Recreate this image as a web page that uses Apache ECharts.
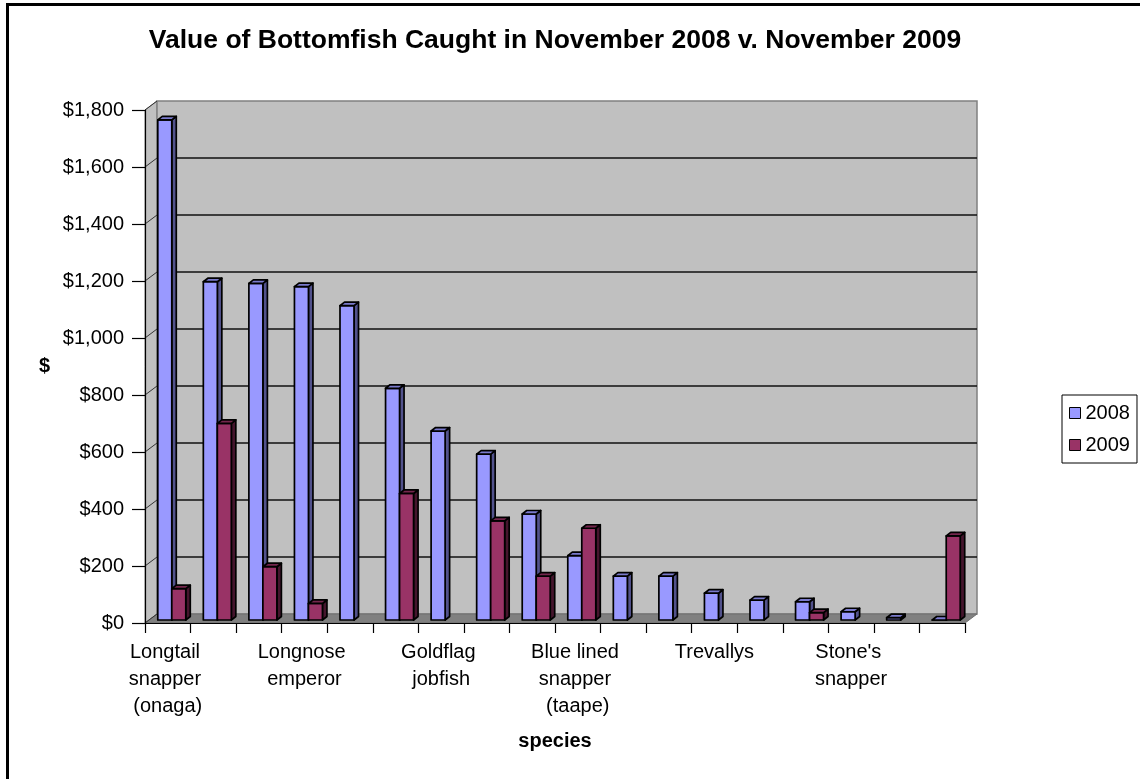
<!DOCTYPE html>
<html>
<head>
<meta charset="utf-8">
<title>Value of Bottomfish Caught in November 2008 v. November 2009</title>
<script src="https://cdn.jsdelivr.net/npm/echarts@6/dist/echarts.min.js"></script>
<style>
  html, body { margin: 0; padding: 0; background: #ffffff; }
  #chart { width: 1140px; height: 779px; }
</style>
</head>
<body>
<div id="chart"></div>
<script>
// Species, in descending order of 2008 value
const categories = [
  'Longtail snapper (onaga)', 'Red snapper (lehi)', 'Pink snapper (opakapaka)',
  'Longnose emperor', 'Redgill emperor', 'Yellowtail snapper',
  'Goldflag jobfish', 'Ruby snapper (ehu)', 'Gindai',
  'Blue lined snapper (taape)', 'Amberjack', 'Yellowlined snapper',
  'Trevallys', 'Groupers', 'Emperors',
  "Stone's snapper", 'Squirrelfish snapper', 'Other bottomfish'
];
// Dollar value caught, November of each year (null = none recorded)
const value2008 = [1755, 1187, 1181, 1170, 1103, 813, 663, 582, 372, 226, 154, 154, 94, 70, 64, 29, 8, 0];
const value2009 = [110, 690, 187, 58, null, 444, null, 348, 154, 322, null, null, null, null, 26, null, null, 295];
const seriesNames = ['2008', '2009'];
// Value axis ticks
const yMin = 0;
const yMax = 1800;
const yStep = 200;

const FONT = '"Liberation Sans", Arial, sans-serif';

// Depth of the 3-D box (walls/floor) and of each column
const WALL_DX = 12, WALL_DY = -9;
const BAR_DX = 4.5, BAR_DY = -3.5;
const BAR_SHIFT_Y = -3;       // columns stand slightly behind the front edge
const BAR_W = 14;

const palette = {
  '2008': { front: '#9999FF', side: '#52528C', top: '#7A7ACC' },
  '2009': { front: '#993366', side: '#45152D', top: '#74264D' }
};

function fmtDollar(v) {
  return '$' + Number(v).toLocaleString('en-US');
}

// Back wall, side wall, floor and gridlines of the 3-D plot box
function renderBox(params, api) {
  const cs = params.coordSys;
  const x0 = cs.x, x1 = cs.x + cs.width;
  const yT = cs.y, yB = cs.y + cs.height;
  const children = [];
  children.push({
    type: 'polygon',
    shape: { points: [[x0, yT], [x0 + WALL_DX, yT + WALL_DY], [x0 + WALL_DX, yB + WALL_DY], [x0, yB]] },
    style: { fill: '#C0C0C0', stroke: '#808080', lineWidth: 1 }
  });
  children.push({
    type: 'rect',
    shape: { x: x0 + WALL_DX, y: yT + WALL_DY, width: cs.width, height: cs.height },
    style: { fill: '#C0C0C0', stroke: '#808080', lineWidth: 1.5 }
  });
  children.push({
    type: 'polygon',
    shape: { points: [[x0, yB], [x1, yB], [x1 + WALL_DX, yB + WALL_DY], [x0 + WALL_DX, yB + WALL_DY]] },
    style: { fill: '#808080', stroke: '#6E6E6E', lineWidth: 1 }
  });
  for (let v = yMin; v <= yMax; v += yStep) {
    const y = api.coord([0, v])[1];
    if (v > yMin && v < yMax) {
      children.push({
        type: 'line',
        shape: { x1: x0 + WALL_DX, y1: y + WALL_DY, x2: x1 + WALL_DX, y2: y + WALL_DY },
        style: { stroke: '#111111', lineWidth: 1.3 }
      });
    }
    children.push({
      type: 'line',
      shape: { x1: x0, y1: y, x2: x0 + WALL_DX, y2: y + WALL_DY },
      style: { stroke: '#333333', lineWidth: 1 }
    });
  }
  return { type: 'group', children: children };
}

// One 3-D column: front face, side face and top face
function makeColumnRenderer(name, offset) {
  const c = palette[name];
  return function (params, api) {
    const v = api.value(1);
    if (v == null || isNaN(v)) return null;
    const idx = api.value(0);
    const base = api.coord([idx, 0]);
    const topPt = api.coord([idx, v]);
    const left = base[0] + offset;
    const right = left + BAR_W;
    const yb = base[1] + BAR_SHIFT_Y;
    const yt = topPt[1] + BAR_SHIFT_Y;
    const edge = { stroke: '#000000', lineWidth: 1.7, lineJoin: 'round' };
    return {
      type: 'group',
      children: [
        {
          type: 'polygon',
          shape: { points: [[right, yt], [right + BAR_DX, yt + BAR_DY], [right + BAR_DX, yb + BAR_DY], [right, yb]] },
          style: Object.assign({ fill: c.side }, edge)
        },
        {
          type: 'rect',
          shape: { x: left, y: yt, width: BAR_W, height: yb - yt },
          style: Object.assign({ fill: c.front }, edge)
        },
        {
          type: 'polygon',
          shape: { points: [[left, yt], [left + BAR_DX, yt + BAR_DY], [right + BAR_DX, yt + BAR_DY], [right, yt]] },
          style: Object.assign({ fill: c.top }, edge)
        }
      ]
    };
  };
}

const chart = echarts.init(document.getElementById('chart'), null, { renderer: 'canvas' });

const option = {
  backgroundColor: '#ffffff',
  animation: false,
  textStyle: { fontFamily: FONT },
  title: {
    text: 'Value of Bottomfish Caught in November 2008 v. November 2009',
    left: 550,
    textAlign: 'center',
    top: 22,
    textStyle: { fontFamily: FONT, fontSize: 26.5, fontWeight: 'bold', color: '#000000' }
  },
  legend: {
    data: seriesNames.map(function (n) {
      return { name: n, itemStyle: { color: palette[n].front, borderColor: '#000000', borderWidth: 1 } };
    }),
    orient: 'vertical',
    left: 1062,
    top: 395,
    padding: [8, 7, 8, 7],
    itemGap: 12,
    itemWidth: 11,
    itemHeight: 11,
    icon: 'rect',
    backgroundColor: '#ffffff',
    borderColor: '#000000',
    borderWidth: 1,
    borderRadius: 0,
    textStyle: { fontFamily: FONT, fontSize: 20, color: '#000000' }
  },
  grid: {
    left: 145,
    right: 175,
    top: 110,
    bottom: 156,
    containLabel: false,
    outerBoundsMode: 'none'
  },
  xAxis: {
    type: 'category',
    data: categories,
    boundaryGap: true,
    name: 'species',
    nameLocation: 'middle',
    nameGap: 108,
    nameTextStyle: { fontFamily: FONT, fontSize: 20, fontWeight: 'bold', color: '#000000' },
    axisLine: { show: true, lineStyle: { color: '#000000', width: 1.2 } },
    axisTick: { show: true, interval: 0, length: 10, lineStyle: { color: '#000000', width: 1.2 } },
    axisLabel: {
      interval: 2,
      margin: 16,
      fontFamily: FONT,
      fontSize: 20,
      lineHeight: 27,
      color: '#000000',
      width: 100,
      overflow: 'break',
      hideOverlap: false
    },
    splitLine: { show: false }
  },
  yAxis: {
    type: 'value',
    min: yMin,
    max: yMax,
    interval: yStep,
    name: '$',
    nameLocation: 'middle',
    nameRotate: 0,
    nameGap: 95,
    nameTextStyle: { fontFamily: FONT, fontSize: 20, fontWeight: 'bold', color: '#000000' },
    axisLine: { show: true, lineStyle: { color: '#000000', width: 1.2 } },
    axisTick: { show: true, length: 13, lineStyle: { color: '#000000', width: 1.2 } },
    axisLabel: {
      margin: 21,
      fontFamily: FONT,
      fontSize: 20,
      color: '#000000',
      formatter: fmtDollar
    },
    splitLine: { show: false }
  },
  series: [
    {
      type: 'custom',
      name: 'box',
      coordinateSystem: 'cartesian2d',
      silent: true,
      z: 0,
      clip: false,
      data: [[0, 0]],
      renderItem: renderBox
    },
    {
      type: 'custom',
      name: '2008',
      coordinateSystem: 'cartesian2d',
      z: 2,
      clip: false,
      itemStyle: { color: palette['2008'].front },
      encode: { x: 0, y: 1 },
      data: value2008.map(function (v, i) { return [i, v]; }),
      renderItem: makeColumnRenderer('2008', -10)
    },
    {
      type: 'custom',
      name: '2009',
      coordinateSystem: 'cartesian2d',
      z: 3,
      clip: false,
      itemStyle: { color: palette['2009'].front },
      encode: { x: 0, y: 1 },
      data: value2009.map(function (v, i) { return [i, v]; }),
      renderItem: makeColumnRenderer('2009', 4)
    }
  ],
  graphic: [
    {
      type: 'rect',
      silent: true,
      shape: { x: 7.5, y: 4.5, width: 1300, height: 900 },
      style: { fill: null, stroke: '#000000', lineWidth: 3 }
    }
  ]
};

chart.setOption(option);
</script>
</body>
</html>
